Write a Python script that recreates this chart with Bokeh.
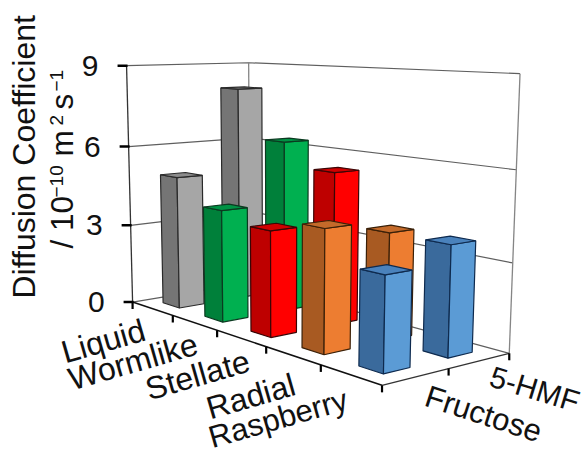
import numpy as np
from bokeh.plotting import figure
from bokeh.models import Range1d
from bokeh.core.properties import value
from bokeh.embed import file_html
from bokeh.resources import INLINE

# ---- data ----
categories = ["Liquid", "Wormlike", "Stellate", "Radial", "Raspberry"]
series = ["Fructose", "5-HMF"]
fructose = [4.95, 4.05, 3.7, 4.15, 3.1]
hmf = [8.1, 6.3, 5.45, 3.7, 3.7]
z_ticks = [0, 3, 6, 9]
light = ["#A6A6A6", "#00B050", "#FF0000", "#ED7D31", "#5B9BD5"]
dark = ["#757575", "#00803A", "#BE0000", "#A85A22", "#3A6A9C"]
top = ["#8C8C8C", "#009244", "#D00000", "#C46A2A", "#4A82BC"]
edge = ["#2A2A2A", "#0B3A20", "#3A0505", "#3A2008", "#0E2A4E"]

# ---- camera calibrated on the box of the 3-D chart ----
cal = [
    (0,0,0,132,301),(5,0,0,382,385),(5,2,0,508,352),(0,2,0,250,283),
    (0,0,9,126,66),(0,2,9,248,62),(5,2,9,520,74),
    (0,0,3,130,224),(0,0,6,128,146),(0,2,3,249,211),(0,2,6,248.5,137),
    (5,2,3,512,262),(5,2,6,516,168),
    (1,0,0,172,315),(2,0,0,217,330),(3,0,0,266,346),(4,0,0,320,364),(5,1,0,448,370),
]
A, b = [], []
for u, v, w, x, y in cal:
    A.append([u, v, w, 1, 0, 0, 0, 0, -x*u, -x*v, -x*w]); b.append(x)
    A.append([0, 0, 0, 0, u, v, w, 1, -y*u, -y*v, -y*w]); b.append(y)
P = np.linalg.lstsq(np.array(A, float), np.array(b, float), rcond=None)[0]

def proj(u, v, w):
    d = P[8]*u + P[9]*v + P[10]*w + 1
    return (P[0]*u + P[1]*v + P[2]*w + P[3]) / d, (P[4]*u + P[5]*v + P[6]*w + P[7]) / d

FONT = value("Liberation Sans")
p = figure(width=585, height=456, output_backend="svg", toolbar_location=None,
           x_range=Range1d(0, 585), y_range=Range1d(456, 0), min_border=0)
p.axis.visible = False
p.grid.visible = False
p.outline_line_color = None
p.background_fill_color = "white"
p.border_fill_color = "white"

def seg(a, b, color, width):
    pa, pb = proj(*a), proj(*b)
    p.line([pa[0], pb[0]], [pa[1], pb[1]], line_color=color, line_width=width)

# walls
for z in z_ticks:
    pts = [proj(0, 0, z), proj(0, 2, z), proj(5, 2, z)]
    p.line([q[0] for q in pts], [q[1] for q in pts], line_color="#5f5f5f", line_width=1.2)
for uv in [(0, 0), (0, 2), (5, 2)]:
    seg((uv[0], uv[1], 0), (uv[0], uv[1], 9), "#858585" if uv != (0, 0) else "#333333", 1.3)

# floor front axes
seg((0, 0, 0), (5, 0, 0), "#111111", 1.6)
seg((5, 0, 0), (5, 2, 0), "#333333", 1.3)

# ticks
for z in z_ticks:
    q = proj(0, 0, z)
    p.line([q[0]-9, q[0]+1], [q[1], q[1]], line_color="black", line_width=2.6)
for u in range(6):
    q = proj(u, 0, 0)
    p.line([q[0], q[0]], [q[1], q[1]+7], line_color="black", line_width=2.2)
for v in (1, 2):
    q = proj(5, v, 0)
    p.line([q[0], q[0]], [q[1], q[1]+7], line_color="black", line_width=2.2)

# bars, far row first
half = 0.2
for j, vals in ((1, hmf), (0, fructose)):
    for i, h in enumerate(vals):
        u0, u1 = i + 0.5 - half, i + 0.5 + half
        v0, v1 = j + 0.5 - half, j + 0.5 + half
        faces = [
            ([(u0, v0, 0), (u1, v0, 0), (u1, v0, h), (u0, v0, h)], dark[i]),
            ([(u1, v0, 0), (u1, v1, 0), (u1, v1, h), (u1, v0, h)], light[i]),
            ([(u0, v0, h), (u1, v0, h), (u1, v1, h), (u0, v1, h)], top[i]),
        ]
        for pts, col in faces:
            q = [proj(*t) for t in pts]
            p.patch([a[0] for a in q], [a[1] for a in q], fill_color=col,
                    line_color=edge[i], line_width=1.2)

def txt(x, y, s, size, angle=0.0, align="left", baseline="alphabetic", color="#111111"):
    if baseline == "alphabetic":
        # the rendered baseline sits lower than the anchor: compensate along the text's normal
        x -= 0.38 * size * np.sin(angle)
        y -= 0.38 * size * np.cos(angle)
    p.text([x], [y], text=[s], text_font=FONT, text_font_size=f"{size}px", angle=angle,
           text_align=align, text_baseline=baseline, text_color=color)

# z labels
for z in z_ticks:
    q = proj(0, 0, z)
    txt(q[0]-28, q[1], str(z), 30, align="right", baseline="middle")

# category labels
cat_pos = [(65, 364), (72, 391), (149, 401), (210, 420), (212, 449)]
cat_size = [32, 32, 32, 32, 31]
for s, (x, y), fs in zip(categories, cat_pos, cat_size):
    txt(x, y, s, fs, angle=np.radians(16))
txt(422, 406, series[0], 31, angle=np.radians(-18))
txt(487, 386, series[1], 30, angle=np.radians(-17))

# y title
up = np.pi / 2
txt(36, 298, "Diffusion Coefficient", 32, angle=up)
txt(73, 248, "/ 10", 31.5, angle=up)
txt(63, 197, "\u221210", 19, angle=up)
txt(73, 156, "m", 31.5, angle=up)
txt(63, 125, "2", 19, angle=up)
txt(73, 109, "s", 31.5, angle=up)
txt(63, 91, "\u22121", 19, angle=up)

open("out.html", "w").write(file_html(p, INLINE))
